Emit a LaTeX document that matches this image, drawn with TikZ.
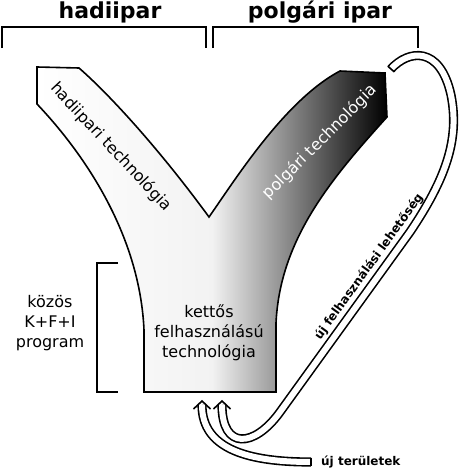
\documentclass[tikz,border=0pt]{standalone}
\usepackage{fontspec}
\setmainfont{DejaVu Sans}
\usetikzlibrary{positioning,calc}

\tikzset{
  title/.style={font=\fontsize{22}{26}\selectfont\bfseries, anchor=base},
  body/.style={font=\fontsize{16}{20}\selectfont, align=center, inner sep=0pt},
  small/.style={font=\fontsize{12}{14}\selectfont\bfseries, inner sep=0pt},
  brace/.style={line width=1.7pt},
  flow/.style={double=white, double distance=6pt, line width=1.6pt},
  flowend/.style={line width=1.6pt, line cap=rect},
  flowhead/.style={line width=1.6pt, line join=miter}
}

\begin{document}
\begin{tikzpicture}[x=1pt,y=-1pt]
\useasboundingbox (0,0) rectangle (460,474);

%% the Y
\draw[line width=1.6pt, left color=white, right color=black, middle color=black!5]
  (37,67) -- (79,68) .. controls (110,95) and (160,150) .. (209,217)
  .. controls (235,180) and (285,100) .. (340,71) -- (385,73) -- (387,117)
  .. controls (330,180) and (280,240) .. (276,323) -- (276,392) -- (144,392) -- (144,330)
  .. controls (140,240) and (90,160) .. (37,104) -- cycle;

\node[body, rotate=-47] (miltech) at (111,147) {hadiipari technológia};
\node[body, rotate=45, text=white] (civtech) at (320,142) {polgári technológia};
\node[body] (dual) at (209,333) {kettős\\felhasználású\\technológia};

%% titles and brackets
\node[title] (mil) at (110,18) {hadiipar};
\node[title] (civ) at (320,18) {polgári ipar};

\draw[brace] (2,48) |- (206,27) -- (206,48);
\draw[brace] (213,48) |- (418,27) -- (418,48);

\node[body] (rd) at (50,323) {közös\\K+F+I\\program};
\draw[brace] (118,263) -| (97,392) -- (118,392);

%% feedback arrows
\coordinate (s1) at (391,69);
\coordinate (e1) at (222,405);
\coordinate (t1) at (222,401);
\coordinate (s2) at (311,462);
\coordinate (e2) at (202,405);
\coordinate (t2) at (202,401);

\draw[flow] (s1) .. controls (408,50) and (440,45) .. (451,95)
  .. controls (460,140) and (445,180) .. (410,232)
  -- node[pos=.235, sloped, above=6pt, small] (newuse) {új felhasználási lehetőség} (280,412)
  .. controls (254,448) and (222,450) .. (e1);
\draw[flow] (s2) .. controls (250,462) and (202,450) .. (e2);

\draw[flowhead] ($(t1)+(-8.5,8)$) -- (t1) -- ($(t1)+(8.5,8)$);
\draw[flowhead] ($(t2)+(-8.5,8)$) -- (t2) -- ($(t2)+(8.5,8)$);

\draw[flowend] ($(s1)!3.5pt!90:(408,50)$) -- ($(s1)!3.5pt!-90:(408,50)$);
\draw[flowend] ($(s2)!3.5pt!90:(250,462)$) -- ($(s2)!3.5pt!-90:(250,462)$);

\node[small, right=10pt of s2] (newarea) {új területek};

\end{tikzpicture}
\end{document}
